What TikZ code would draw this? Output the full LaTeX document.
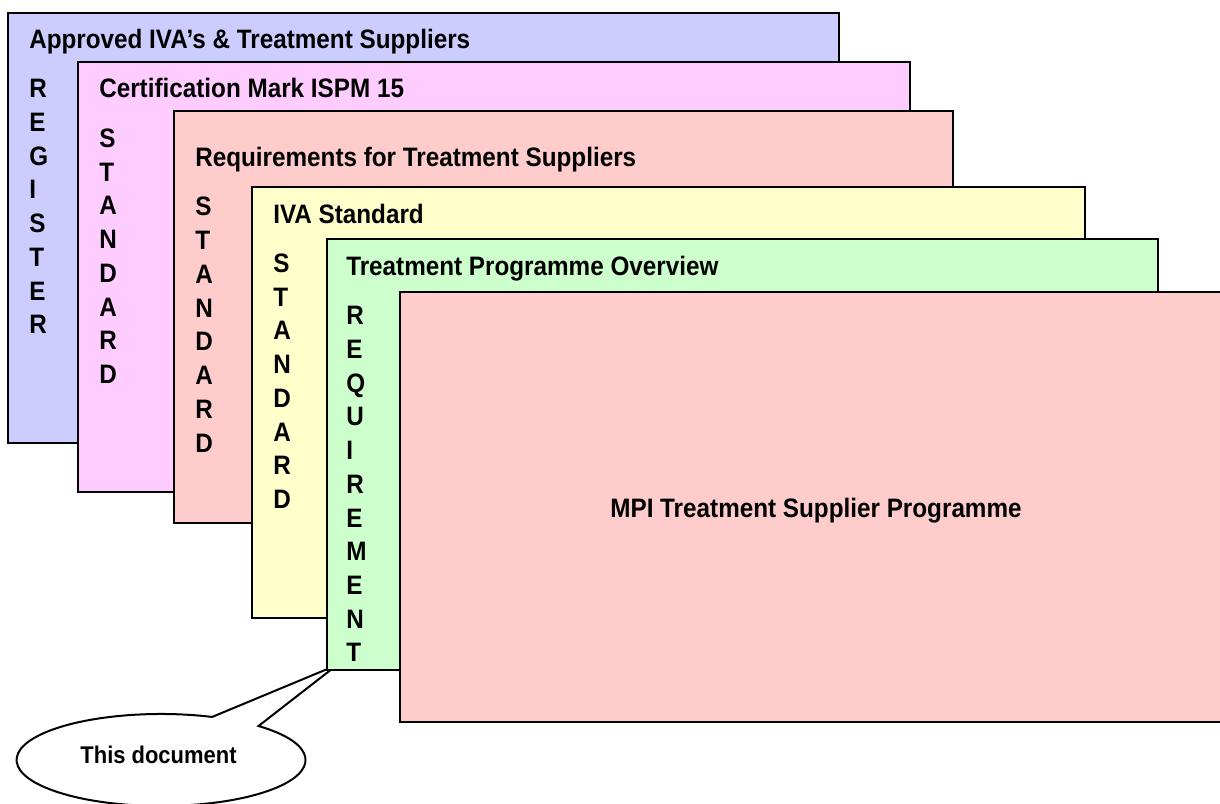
\documentclass[tikz,border=0pt]{standalone}
\usepackage{fontspec}
\setmainfont[FakeStretch=0.91]{Liberation Sans}
\tikzset{
  x=0.75pt,y=-0.75pt,
  sheet/.style={draw=black,line width=1.5pt,line join=miter},
  title/.style={anchor=base west,inner sep=0pt,font=\fontsize{20}{24}\selectfont\bfseries},
  vert/.style={anchor=north west,inner sep=0pt,align=left,font=\fontsize{20}{25.3}\selectfont\bfseries}
}
\begin{document}
\begin{tikzpicture}
\useasboundingbox (0,0) rectangle (1220,803);
\definecolor{cA}{HTML}{CCCCFF}\definecolor{cB}{HTML}{FFCCFF}\definecolor{cC}{HTML}{FFCCCC}
\definecolor{cD}{HTML}{FFFFCC}\definecolor{cE}{HTML}{CCFFCC}
\path[sheet,fill=cA] (8,13) rectangle (839,443);
\node[title] (ta) at (29,48) {Approved IVA’s \& Treatment Suppliers};
\node[vert] (va) at (29,79) {R\\E\\G\\I\\S\\T\\E\\R};
\path[sheet,fill=cB] (78,62) rectangle (910,492);
\node[title] (tb) at (99,97) {Certification Mark ISPM 15};
\node[vert] (vb) at (99,128.5) {S\\T\\A\\N\\D\\A\\R\\D};
\path[sheet,fill=cC] (174,111) rectangle (953,523);
\node[title] (tc) at (195,166) {Requirements for Treatment Suppliers};
\node[vert] (vc) at (195,197) {S\\T\\A\\N\\D\\A\\R\\D};
\path[sheet,fill=cD] (252,187) rectangle (1085,618);
\node[title] (td) at (273,223) {IVA Standard};
\node[vert] (vd) at (273,253.5) {S\\T\\A\\N\\D\\A\\R\\D};
\coordinate (tip) at (337,665);
\draw[sheet,fill=white] (212.7,716.7) -- (tip) -- (258.5,726) arc[start angle=-47.6,end angle=290.6,x radius=144.5,y radius=46] -- cycle;
\path[sheet,fill=cE] (327,239) rectangle (1158,670);
\node[title] (te) at (346,275) {Treatment Programme Overview};
\node[vert] (ve) at (346,306) {R\\E\\Q\\U\\I\\R\\E\\M\\E\\N\\T};
\path[sheet,fill=cC] (400,292) rectangle (1231,722);
\node[title,anchor=base] (tf) at (816,517) {MPI Treatment Supplier Programme};
\node[anchor=base,inner sep=0pt,font=\fontsize{18.1}{22}\selectfont\bfseries] (call) at (158.5,763) {This document};
\end{tikzpicture}
\end{document}
